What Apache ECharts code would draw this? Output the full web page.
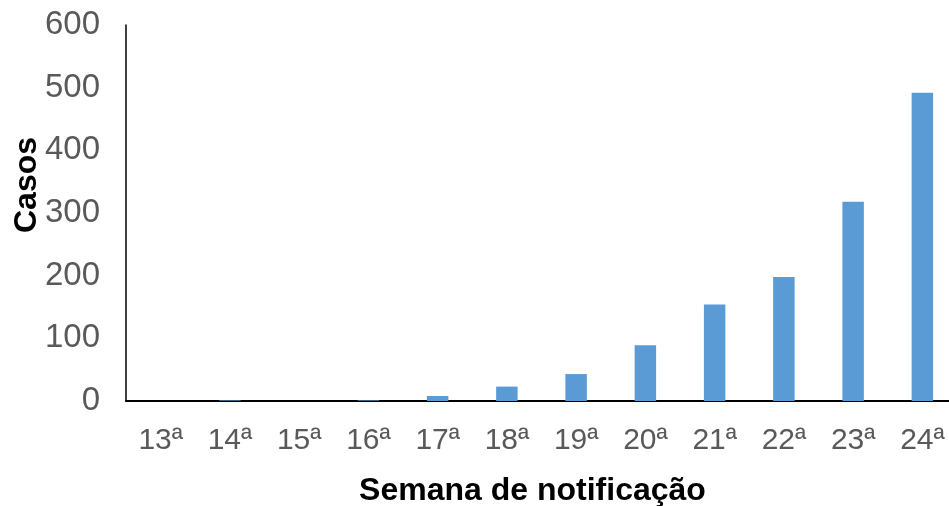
<!DOCTYPE html>
<html>
<head>
<meta charset="utf-8">
<script src="https://cdn.jsdelivr.net/npm/echarts@6/dist/echarts.min.js"></script>
<style>html,body{margin:0;padding:0;background:#fff;}#c{width:949px;height:506px;}</style>
</head>
<body>
<div id="c"></div>
<script>
const categories = ['13ª','14ª','15ª','16ª','17ª','18ª','19ª','20ª','21ª','22ª','23ª','24ª'];
const casos = [0, 1, 0, 1, 8, 23, 43, 89, 154, 198, 318, 492];
const yTicks = {min: 0, max: 600, interval: 100};
const xTitle = 'Semana de notificação';
const yTitle = 'Casos';

const chart = echarts.init(document.getElementById('c'), null, {renderer: 'canvas'});
chart.setOption({
  animation: false,
  backgroundColor: '#ffffff',
  grid: {left: 126, right: -8, top: 25, bottom: 105, containLabel: false, outerBoundsMode: 'none'},
  xAxis: {
    type: 'category',
    data: categories,
    name: xTitle,
    nameLocation: 'middle',
    nameGap: 74,
    nameMoveOverlap: false,
    nameTextStyle: {fontFamily: 'Liberation Sans', fontSize: 32, fontWeight: 'bold', color: '#000', padding: [0, 18, 0, 0]},
    axisLine: {lineStyle: {color: '#000', width: 2}},
    axisTick: {show: false},
    axisLabel: {fontFamily: 'Liberation Sans', fontSize: 30, color: '#595959', margin: 25, interval: 0}
  },
  yAxis: {
    type: 'value',
    min: yTicks.min, max: yTicks.max, interval: yTicks.interval,
    name: yTitle,
    nameLocation: 'middle',
    nameGap: 83,
    nameMoveOverlap: false,
    nameTextStyle: {fontFamily: 'Liberation Sans', fontSize: 32, fontWeight: 'bold', color: '#000', padding: [0, 0, 0, 56]},
    axisLine: {show: true, lineStyle: {color: '#000', width: 1.5}},
    axisTick: {show: false},
    splitLine: {show: false},
    axisLabel: {fontFamily: 'Liberation Sans', fontSize: 33, color: '#595959', margin: 26}
  },
  series: [{
    type: 'bar',
    data: casos,
    barWidth: '31%',
    itemStyle: {color: '#5B9BD5'}
  }]
});
</script>
</body>
</html>
